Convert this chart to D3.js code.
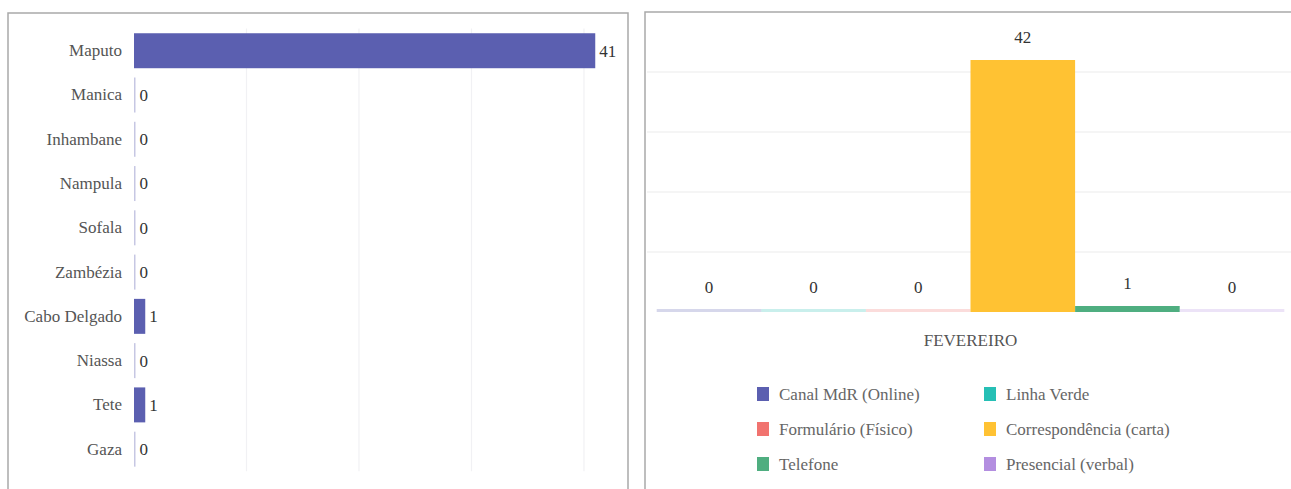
<!DOCTYPE html>
<html><head><meta charset="utf-8">
<script src="https://cdn.jsdelivr.net/npm/d3@7"></script>
<style>html,body{margin:0;padding:0;background:#fff;}svg{display:block;}
svg text{font-family:"Liberation Serif","Times New Roman",Times,"DejaVu Serif",serif !important;}</style>
</head><body>
<svg id="c" width="1291" height="489"></svg>
<script>
// ---- data ----
const provinces = ["Maputo","Manica","Inhambane","Nampula","Sofala","Zambézia","Cabo Delgado","Niassa","Tete","Gaza"];
const provinceValues = [41,0,0,0,0,0,1,0,1,0];
const xTicksLeft = [0,10,20,30,40];

const channelCategory = ["FEVEREIRO"];
const channels = ["Canal MdR (Online)","Linha Verde","Formulário (Físico)","Correspondência (carta)","Telefone","Presencial (verbal)"];
const channelValues = [0,0,0,42,1,0];
const channelColors = ["#5b5fb0","#26bfb5","#f1736f","#ffc233","#4fae80","#b38ee0"];
const yTicksRight = [0,10,20,30,40];

const svg = d3.select("#c");

// panel borders
svg.append("rect").attr("x",8).attr("y",13).attr("width",620).attr("height",500)
  .attr("fill","none").attr("stroke","#a9a9a9").attr("stroke-width",1.5);
svg.append("rect").attr("x",645).attr("y",12).attr("width",700).attr("height",500)
  .attr("fill","none").attr("stroke","#a9a9a9").attr("stroke-width",1.5);

// ---- left chart ----
const x = d3.scaleLinear().domain([0,41]).range([134,595.25]);
const y = d3.scaleBand().domain(provinces).range([28.6,471.3]).paddingInner(0.21).paddingOuter(0.105);
const gL = svg.append("g");
gL.selectAll("line.grid").data(xTicksLeft.slice(1)).join("line")
  .attr("x1",d=>x(d)).attr("x2",d=>x(d)).attr("y1",28.6).attr("y2",471.3)
  .attr("stroke","#f1f1f4").attr("stroke-width",1.2);
const yAxis = d3.axisLeft(y).tickSize(0).tickPadding(12);
const ya = gL.append("g").attr("transform","translate(134,0)").call(yAxis);
ya.select(".domain").remove();
ya.selectAll("text").attr("font-size",17).attr("fill","#555");
gL.selectAll("rect.bar").data(provinces).join("rect")
  .attr("x",x(0))
  .attr("y",(d)=>y(d))
  .attr("height",y.bandwidth())
  .attr("width",(d,i)=>provinceValues[i]>0 ? x(provinceValues[i])-x(0) : 1.5)
  .attr("fill","#5b5fb0")
  .attr("fill-opacity",(d,i)=>provinceValues[i]>0?1:0.35);
gL.selectAll("text.val").data(provinces).join("text")
  .attr("x",(d,i)=>Math.max(x(provinceValues[i]),x(0)+1.5)+4)
  .attr("y",d=>y(d)+y.bandwidth()/2)
  .attr("dy","0.35em")
  .attr("font-size",17).attr("fill","#333")
  .text((d,i)=>provinceValues[i]);

// ---- right chart ----
const yR = d3.scaleLinear().domain([0,42]).range([312,60]);
const x0 = d3.scaleBand().domain(channelCategory).range([656.7,1284.3]).padding(0);
const x1 = d3.scaleBand().domain(channels).range([0,x0.bandwidth()]).padding(0);
const gR = svg.append("g");
gR.selectAll("line.grid").data(yTicksRight.slice(1)).join("line")
  .attr("x1",647).attr("x2",1291).attr("y1",d=>yR(d)).attr("y2",d=>yR(d))
  .attr("stroke","#f2f2f2").attr("stroke-width",1.5);
gR.selectAll("rect.bar").data(channels).join("rect")
  .attr("x",d=>x0("FEVEREIRO")+x1(d))
  .attr("width",x1.bandwidth())
  .attr("y",(d,i)=>channelValues[i]>0 ? yR(channelValues[i]) : yR(0)-3)
  .attr("height",(d,i)=>channelValues[i]>0 ? yR(0)-yR(channelValues[i]) : 3)
  .attr("fill",(d,i)=>channelColors[i])
  .attr("fill-opacity",(d,i)=>channelValues[i]>0?1:0.25);
gR.selectAll("text.val").data(channels).join("text")
  .attr("x",d=>x0("FEVEREIRO")+x1(d)+x1.bandwidth()/2)
  .attr("y",(d,i)=>(channelValues[i]>0 ? yR(channelValues[i]) : yR(0)-2)-23)
  .attr("dy","0.35em").attr("text-anchor","middle")
  .attr("font-size",17).attr("fill","#333")
  .text((d,i)=>channelValues[i]);
const xa = gR.append("g").attr("transform","translate(0,312)").call(d3.axisBottom(x0).tickSize(0).tickPadding(22));
xa.select(".domain").remove();
xa.selectAll("text").attr("font-size",17).attr("fill","#555");

// legend
const leg = gR.append("g");
const legItems = leg.selectAll("g").data(channels).join("g")
  .attr("transform",(d,i)=>`translate(${i%2===0?757:984},${394+Math.floor(i/2)*35})`);
legItems.append("rect").attr("x",0).attr("y",-7).attr("width",12).attr("height",14)
  .attr("fill",(d,i)=>channelColors[i]);
legItems.append("text").attr("x",22).attr("y",0).attr("dy","0.35em")
  .attr("font-size",17).attr("fill","#666").text(d=>d);
</script>
</body></html>
